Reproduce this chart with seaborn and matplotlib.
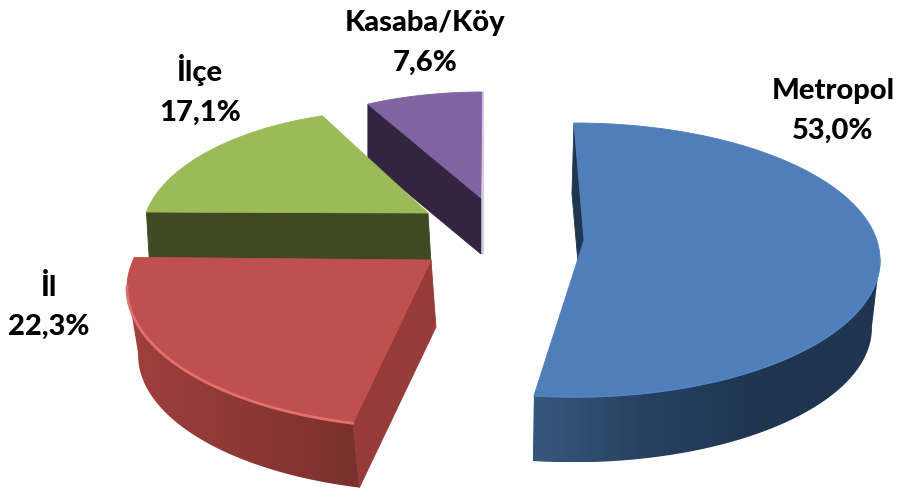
# %% Libraries
import numpy as np
import matplotlib
matplotlib.use('Agg')
import matplotlib.pyplot as plt
from matplotlib.colors import LinearSegmentedColormap
from matplotlib.patches import Polygon
import seaborn as sns

# %% Data
categories = ['Metropol', 'İl', 'İlçe', 'Kasaba/Köy']
values = [53.0, 22.3, 17.1, 7.6]

# %% Colours
faces = sns.color_palette(['#4F7EBB', '#C0504D', '#9BBB59', '#8064A2'])
wall_cols = [['#36587F', '#26405F', '#1F3550', '#1F3550'], ['#A0403D', '#7A302E'], None, None]
radial_cols = ['#1F3550', '#973B38', '#3F4A22', '#33243F']
rim_cols = ['#5587C6', '#E2706C', None, None]
rim_widths = [1.0, 2.0, 0, 0]

# %% Projection of each exploded slice, in figure pixels
# c: ellipse centre, r: radii, apex: tip, start: first angle, stretch: perspective
views = [
    dict(c=(575, 260), r=(305, 137), apex=(584, 240), start=90.2, stretch=0.985, d=(-2, 68), s=0.98),
    dict(c=(431, 288), r=(304, 140), apex=(431, 260), start=-104.9, stretch=1.093, d=(5, 67), s=0.98),
    dict(c=(400, 235), r=(258, 125), apex=(428, 213), start=169.4, stretch=1.005, d=(3, 50), s=1.0),
    dict(c=(482, 200), r=(248, 108), apex=(481, 198), start=117.4, stretch=1.0, d=(0, 56), s=1.0),
]
label_pos = [(833, 111), (49, 307), (200, 90), (425, 43)]
order = [3, 2, 0, 1]  # back to front

sns.set_theme(style='white')
plt.rcParams['font.family'] = ['Lato', 'DejaVu Sans']

fig, ax = plt.subplots(figsize=(8.98, 4.97), dpi=100)
fig.subplots_adjust(0, 0, 1, 1)
ax.set_axis_off()
z = 1


def ellipse(v, theta, bottom=False):
    cx, cy = v['c']
    rx, ry = v['r']
    if bottom:
        cx, cy = cx + v['d'][0], cy + v['d'][1]
        rx, ry = rx * v['s'], ry * v['s']
    return np.column_stack([cx + rx * np.cos(theta), cy - ry * np.sin(theta)])


def gradient(verts, cols):
    global z
    cmap = LinearSegmentedColormap.from_list('w', cols)
    x0, x1 = verts[:, 0].min(), verts[:, 0].max()
    y0, y1 = verts[:, 1].min(), verts[:, 1].max()
    im = ax.imshow(np.linspace(0, 1, 256).reshape(1, -1), cmap=cmap, aspect='auto',
                   extent=(x0, x1, y1, y0), zorder=z)
    clip = Polygon(verts, closed=True, transform=ax.transData)
    im.set_clip_path(clip)
    z += 1


def flat(verts, col):
    global z
    ax.add_patch(Polygon(verts, closed=True, fc=col, ec=col, lw=0.6, zorder=z))
    z += 1


# %% Slices, angles come from the values
for i in order:
    v = views[i]
    sweep = 360 * values[i] / sum(values) * v['stretch']
    theta = np.radians(np.linspace(v['start'], v['start'] - sweep, 200))
    top = ellipse(v, theta)
    low = ellipse(v, theta, bottom=True)
    apex = np.array(v['apex'], dtype=float)

    # wall along the cut at the first angle
    flat(np.array([top[0], apex, apex + v['d'], low[0]]), radial_cols[i])

    # outer wall, only the part facing the viewer
    front = np.sin(theta) < 0.02
    if front.any():
        gradient(np.vstack([top[front], low[front][::-1]]), wall_cols[i])

    # top face
    flat(np.vstack([apex, top]), faces[i])
    if rim_cols[i]:
        ax.plot(*top[front].T, color=rim_cols[i], lw=rim_widths[i], solid_capstyle='round', zorder=z)
        z += 1

# light edge on the right of the pulled out slice
v = views[3]
edge_top = ellipse(v, np.radians([90]))[0]
ax.plot([v['apex'][0] + 2, edge_top[0] + 1], [v['apex'][1] + v['d'][1], edge_top[1]],
        color='#D5CBE4', lw=1.5, zorder=0.5)

# %% Labels
for name, val, (x, y) in zip(categories, values, label_pos):
    txt = f'{val:.1f}'.replace('.', ',')
    ax.text(x, y, f'{name}\n{txt}%', ha='center', va='center', fontsize=21,
            fontweight='black', color='black', linespacing=1.62, zorder=z + 1)

ax.set_xlim(0, 898)
ax.set_ylim(497, 0)
plt.savefig('out.png', dpi=100)
